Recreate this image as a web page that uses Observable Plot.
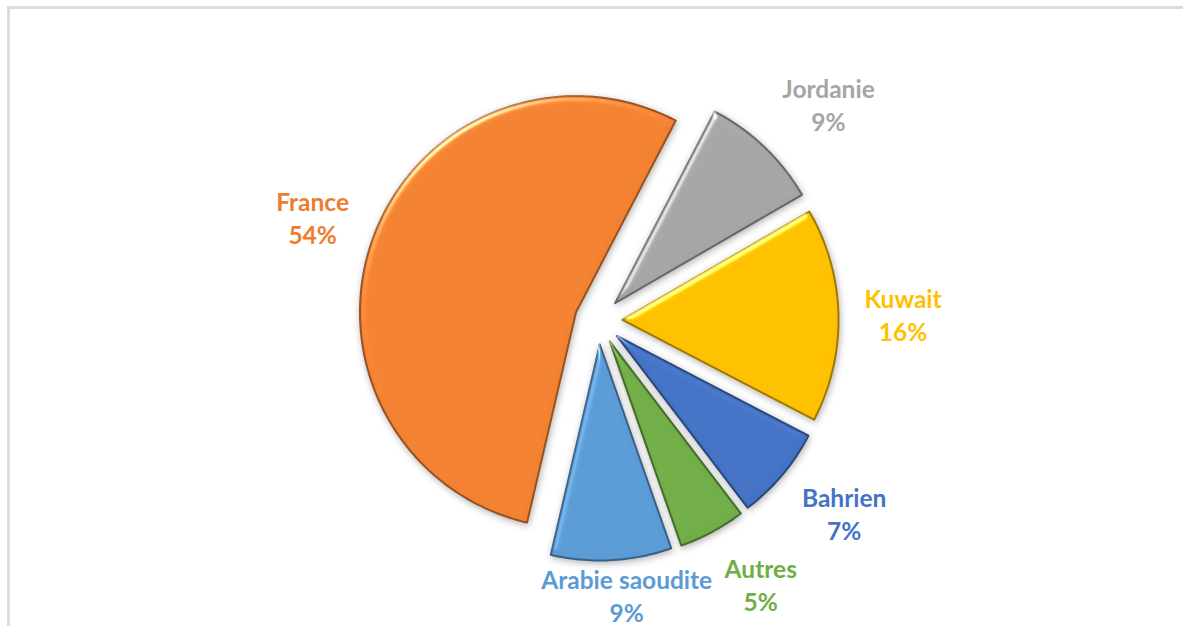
<!DOCTYPE html>
<html>
<head>
<meta charset="utf-8">
<script src="https://cdn.jsdelivr.net/npm/d3@7"></script>
<script src="https://cdn.jsdelivr.net/npm/@observablehq/plot@0.6"></script>
<style>
  html, body { margin: 0; padding: 0; background: #fff; overflow: hidden; }
  #frame { position: absolute; left: 7px; top: 6px; width: 1400px; height: 900px; border: 3px solid #dcdcdc; box-sizing: border-box; }
  #chart { position: absolute; left: 0; top: 0; }
</style>
</head>
<body>
<div id="frame"></div>
<div id="chart"></div>
<script>
// ---- data ----
const countries = ["Jordanie", "Kuwait", "Bahrien", "Autres", "Arabie saoudite", "France"];
const shares = [9, 16, 7, 5, 9, 54];
// ---- styles ----
const sliceColors = ["#A5A5A5", "#FFC000", "#4472C4", "#70AD47", "#5B9BD5", "#F28232"];
const labelColors = ["#A5A5A5", "#FFC000", "#4472C4", "#70AD47", "#5B9BD5", "#ED7D31"];

// ---- layout ----
const W = 1183, H = 626;
const cx = 598, cy = 320, R = 216, explode = 24, startDeg = 27.5, gap = 26;
const fontSize = 24.5, lineHeight = 1.35, fontFamily = "Lato, 'Open Sans', sans-serif";

const total = d3.sum(shares);
const rad = d => d * Math.PI / 180;
const clamp1 = v => Math.max(-1, Math.min(1, v));
const ctx = document.createElement("canvas").getContext("2d");
ctx.font = `bold ${fontSize}px Lato`;

const slicePts = [];
const labels = [];
let acc = startDeg;
countries.forEach((name, i) => {
  const span = shares[i] / total * 360;
  const a0 = acc, a1 = acc + span;
  acc = a1;
  const mid = (a0 + a1) / 2;
  const ux = Math.sin(rad(mid)), uy = -Math.cos(rad(mid));
  const ox = cx + explode * ux, oy = cy + explode * uy;
  const poly = [[ox, oy]];
  const n = Math.max(4, Math.ceil(span));
  for (let k = 0; k <= n; k++) {
    const a = rad(a0 + (a1 - a0) * k / n);
    poly.push([ox + R * Math.sin(a), oy - R * Math.cos(a)]);
  }
  poly.push([ox, oy]);
  poly.forEach(([x, y]) => slicePts.push({name, x, y, fill: sliceColors[i], stroke: d3.color(sliceColors[i]).darker(1.3).formatHex()}));
  // label placement outside the slice, kept inside the chart area
  const text = `${name}\n${shares[i]}%`;
  const w = Math.max(ctx.measureText(name).width, ctx.measureText(shares[i] + "%").width);
  const h = fontSize * lineHeight * 2;
  const px = ox + (R + gap) * ux, py = oy + (R + gap) * uy;
  labels.push({
    text,
    x: px + clamp1(ux * 3) * w / 2,
    y: Math.min(py + uy * h / 2, H - 32),
    color: labelColors[i]
  });
});

const plot = Plot.plot({
  width: W, height: H,
  margin: 0,
  x: {domain: [0, W], range: [0, W], axis: null},
  y: {domain: [0, H], range: [0, H], axis: null},
  marks: [
    Plot.line(slicePts, {x: "x", y: "y", z: "name", fill: "fill", stroke: "stroke", strokeWidth: 2, curve: "linear", strokeLinejoin: "round"}),
    Plot.text(labels, {x: "x", y: "y", text: "text", fill: "color", fontSize, fontWeight: "bold", fontFamily, lineHeight})
  ]
});
plot.style.background = "transparent";
plot.style.overflow = "visible";

// bevel + soft shadow effect
const svgns = "http://www.w3.org/2000/svg";
const defs = document.createElementNS(svgns, "defs");
defs.innerHTML = `
<filter id="bevel" x="-20%" y="-20%" width="140%" height="140%" color-interpolation-filters="sRGB">
  <feGaussianBlur in="SourceAlpha" stdDeviation="3" result="blur"/>
  <feSpecularLighting in="blur" surfaceScale="4" specularConstant="0.9" specularExponent="26" lighting-color="#ffffff" result="spec">
    <feDistantLight azimuth="235" elevation="28"/>
  </feSpecularLighting>
  <feComposite in="spec" in2="SourceAlpha" operator="in" result="specIn"/>
  <feComposite in="SourceGraphic" in2="specIn" operator="arithmetic" k1="0" k2="1" k3="0.6" k4="0" result="lit"/>
  <feGaussianBlur in="SourceAlpha" stdDeviation="3.5" result="sblur"/>
  <feOffset in="sblur" dx="1" dy="2" result="soff"/>
  <feFlood flood-color="#000" flood-opacity="0.3"/>
  <feComposite in2="soff" operator="in" result="shadow"/>
  <feMerge><feMergeNode in="shadow"/><feMergeNode in="lit"/></feMerge>
</filter>`;
plot.insertBefore(defs, plot.firstChild);
plot.querySelectorAll('g[aria-label="line"] path').forEach(p => p.setAttribute("filter", "url(#bevel)"));

document.getElementById("chart").appendChild(plot);
</script>
</body>
</html>
